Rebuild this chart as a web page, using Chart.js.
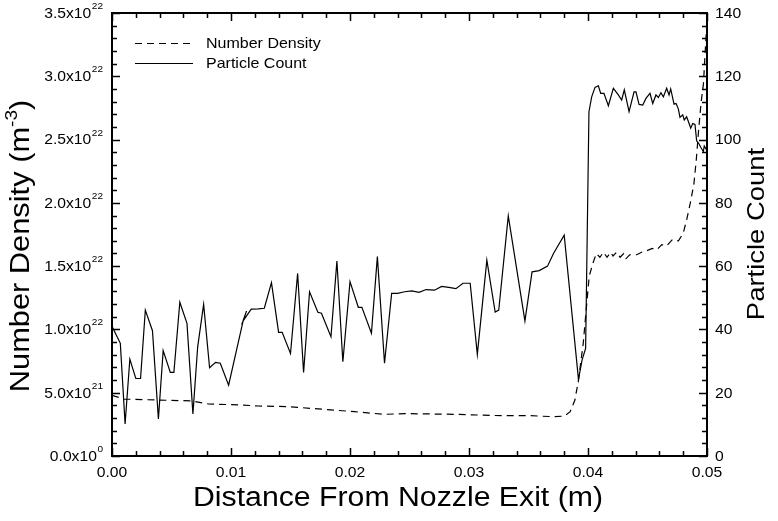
<!DOCTYPE html>
<html>
<head>
<meta charset="utf-8">
<script src="https://cdn.jsdelivr.net/npm/chart.js@4.4.0/dist/chart.umd.min.js"></script>
<style>
html, body { margin: 0; padding: 0; background: #fff; }
#wrap { width: 778px; height: 521px; }
</style>
</head>
<body>
<div id="wrap"><canvas id="chart" width="778" height="521"></canvas></div>
<script>
// Particle count (right axis)
const countX = [0.0000, 0.0007, 0.0011, 0.0015, 0.0020, 0.0024, 0.0028, 0.0034, 0.0039, 0.0043,
	0.0049, 0.0052, 0.0057, 0.0063, 0.0068, 0.0072, 0.0077, 0.0082, 0.0087, 0.0091,
	0.0098, 0.0110, 0.0113, 0.0110, 0.0117, 0.0123, 0.0128, 0.0134, 0.0140, 0.0143,
	0.0150, 0.0156, 0.0161, 0.0166, 0.0173, 0.0176, 0.0184, 0.0189, 0.0194, 0.0200,
	0.0207, 0.0210, 0.0218, 0.0223, 0.0229, 0.0235, 0.0240, 0.0246, 0.0252, 0.0258,
	0.0264, 0.0271, 0.0277, 0.0283, 0.0289, 0.0295, 0.0301, 0.0307, 0.0315, 0.0322,
	0.0325, 0.0333, 0.0347, 0.0353, 0.0359, 0.0366, 0.0371, 0.0380, 0.0392, 0.0395,
	0.0398, 0.04008, 0.04031, 0.04059, 0.04087, 0.04107, 0.04134, 0.04171, 0.04213, 0.04255,
	0.04283, 0.04305, 0.04345, 0.04387, 0.04403, 0.04429, 0.0446, 0.04487, 0.04521, 0.04544,
	0.04571, 0.04591, 0.04613, 0.04633, 0.04661, 0.04681, 0.04695, 0.04723, 0.0474, 0.04759,
	0.04773, 0.04796, 0.04809, 0.04829, 0.04851, 0.04863, 0.0488, 0.04899, 0.04913, 0.04933,
	0.0495, 0.04969, 0.04977, 0.0500];
const countY = [41, 35.6, 10.1, 30.6, 24.5, 24.5, 46.1, 39.6, 11.7, 33.3,
	26.4, 26.4, 48.6, 41.9, 13.3, 34.5, 47.9, 27.9, 29.6, 29.3,
	22.4, 42.4, 45.8, 42.6, 46.4, 46.5, 46.7, 54.8, 39.1, 39.1,
	32.4, 57.7, 26.4, 51.9, 45.4, 45.1, 37.7, 61.6, 29.8, 55.1,
	47.0, 47.0, 38.8, 63.0, 29.3, 51.4, 51.4, 51.9, 52.2, 51.7,
	52.6, 52.4, 53.6, 53.3, 52.9, 54.6, 54.6, 32.1, 61.9, 45.5,
	46.1, 75.9, 42.7, 58.2, 58.6, 60.0, 64.0, 69.8, 24.2, 30.3,
	34.0, 108.8, 113.5, 116.5, 117.0, 114.6, 114.6, 110.7, 116.2, 114.1,
	112.5, 115.7, 108.8, 115.1, 115.1, 111.1, 110.9, 113.0, 114.6, 111.4,
	114.1, 113.3, 114.8, 113.5, 116.2, 114.1, 116.0, 111.2, 111.4, 109.7,
	107.0, 107.8, 106.2, 107.2, 104.9, 103.6, 105.1, 104.8, 99.6, 98.6,
	97.4, 96.2, 98.0, 96.5];

// Number density (left axis)
const densityX = [0.0000, 0.0010, 0.0039, 0.0067, 0.0081, 0.0109, 0.0123, 0.0148, 0.0176, 0.0204,
	0.0229, 0.0246, 0.0290, 0.0320, 0.0350, 0.0370, 0.0380, 0.0385, 0.0389, 0.0392,
	0.0396, 0.0399, 0.0401, 0.0404, 0.0407, 0.0410, 0.0413, 0.0416, 0.0419, 0.0421,
	0.0424, 0.0427, 0.0430, 0.0432, 0.0435, 0.0441, 0.0445, 0.0449, 0.0454, 0.0458,
	0.0462, 0.0466, 0.0471, 0.0476, 0.0480, 0.0483, 0.0486, 0.0489, 0.0491, 0.0493,
	0.0495, 0.0497, 0.0500];
const densityY = [4.8e21, 4.5e21, 4.42e21, 4.35e21, 4.11e21, 4.03e21, 3.95e21, 3.9e21, 3.7e21, 3.5e21,
	3.29e21, 3.35e21, 3.29e21, 3.2e21, 3.19e21, 3.11e21, 3.15e21, 3.5e21, 4.42e21, 6.0e21,
	8.9e21, 1.21e22, 1.42e22, 1.52e22, 1.60e22, 1.57e22, 1.61e22, 1.57e22, 1.61e22, 1.58e22,
	1.61e22, 1.57e22, 1.60e22, 1.56e22, 1.59e22, 1.59e22, 1.61e22, 1.62e22, 1.64e22, 1.63e22,
	1.67e22, 1.66e22, 1.71e22, 1.70e22, 1.76e22, 1.87e22, 2.0e22, 2.15e22, 2.34e22, 2.58e22,
	2.79e22, 2.94e22, 3.45e22];

// Tick labels
const xTicks = [0, 0.01, 0.02, 0.03, 0.04, 0.05];
const xTickLabels = ['0.00', '0.01', '0.02', '0.03', '0.04', '0.05'];
const densityTicks = [0, 5e21, 1e22, 1.5e22, 2e22, 2.5e22, 3e22, 3.5e22];
const densityTickBase = ['0.0x10', '5.0x10', '1.0x10', '1.5x10', '2.0x10', '2.5x10', '3.0x10', '3.5x10'];
const densityTickExp = ['0', '21', '22', '22', '22', '22', '22', '22'];
const countTicks = [0, 20, 40, 60, 80, 100, 120, 140];

const FONT = '"Liberation Sans", Arial, sans-serif';
const SX = 1.12; // text in the reference is a bit wide

function drawText(ctx, text, x, y, size, align, rot) {
	ctx.save();
	ctx.translate(x, y);
	if (rot) ctx.rotate(rot);
	ctx.scale(SX, 1);
	ctx.font = size + 'px ' + FONT;
	ctx.textAlign = align;
	ctx.textBaseline = 'middle';
	ctx.fillStyle = '#000';
	ctx.fillText(text, 0, 0);
	ctx.restore();
}

function textWidth(ctx, text, size) {
	ctx.save();
	ctx.font = size + 'px ' + FONT;
	const w = ctx.measureText(text).width * SX;
	ctx.restore();
	return w;
}

const framePlugin = {
	id: 'frame',
	afterDraw(chart) {
		const ctx = chart.ctx;
		const a = chart.chartArea;
		const sx = chart.scales.x, sd = chart.scales.yD, sc = chart.scales.yC;

		ctx.save();
		ctx.strokeStyle = '#000';
		ctx.lineWidth = 1.5;

		// inward ticks on all sides
		ctx.beginPath();
		for (let i = 0; i <= 25; i++) {
			const px = Math.round(sx.getPixelForValue(i * 0.002)) + 0.5;
			const len = i % 5 === 0 ? 8 : 5;
			ctx.moveTo(px, a.bottom); ctx.lineTo(px, a.bottom - len);
			ctx.moveTo(px, a.top); ctx.lineTo(px, a.top + len);
		}
		for (let i = 0; i <= 35; i++) {
			const py = Math.round(sd.getPixelForValue(i * 1e21)) + 0.5;
			const len = i % 5 === 0 ? 8 : 5;
			ctx.moveTo(a.left, py); ctx.lineTo(a.left + len, py);
		}
		for (let i = 0; i <= 35; i++) {
			const py = Math.round(sc.getPixelForValue(i * 4)) + 0.5;
			const len = i % 5 === 0 ? 8 : 5;
			ctx.moveTo(a.right, py); ctx.lineTo(a.right - len, py);
		}
		ctx.stroke();

		// frame
		ctx.lineWidth = 2;
		ctx.strokeRect(a.left, a.top, a.right - a.left, a.bottom - a.top);
		ctx.restore();

		// tick labels
		xTicks.forEach((v, i) => {
			drawText(ctx, xTickLabels[i], sx.getPixelForValue(v), a.bottom + 17, 14, 'center');
		});
		densityTicks.forEach((v, i) => {
			const py = sd.getPixelForValue(v);
			const right = a.left - 9;
			const ew = textWidth(ctx, densityTickExp[i], 9);
			drawText(ctx, densityTickExp[i], right, py - 6.5, 9, 'right');
			drawText(ctx, densityTickBase[i], right - ew - 0.5, py + 1, 14, 'right');
		});
		countTicks.forEach(v => {
			drawText(ctx, String(v), a.right + 8, sc.getPixelForValue(v) + 1, 14, 'left');
		});

		// axis titles
		drawText(ctx, 'Distance From Nozzle Exit (m)', 398, 499, 27, 'center');

		ctx.save();
		ctx.translate(21, 246);
		ctx.rotate(-Math.PI / 2);
		const main = 'Number Density (m';
		const wMain = textWidth(ctx, main, 27.5);
		const wSup = textWidth(ctx, '-3', 17);
		const wEnd = textWidth(ctx, ')', 27.5);
		let x0 = -(wMain + wSup + wEnd) / 2;
		drawText(ctx, main, x0, 0, 27.5, 'left');
		drawText(ctx, '-3', x0 + wMain, -9, 17, 'left');
		drawText(ctx, ')', x0 + wMain + wSup, 0, 27.5, 'left');
		ctx.restore();

		drawText(ctx, 'Particle Count', 757, 234, 24.5, 'center', -Math.PI / 2);

		// legend
		ctx.save();
		ctx.strokeStyle = '#000';
		ctx.lineWidth = 1.2;
		ctx.setLineDash([7, 5]);
		ctx.beginPath();
		ctx.moveTo(135, 43.5); ctx.lineTo(193, 43.5);
		ctx.stroke();
		ctx.setLineDash([]);
		ctx.beginPath();
		ctx.moveTo(135, 63.5); ctx.lineTo(193, 63.5);
		ctx.stroke();
		ctx.restore();
		drawText(ctx, 'Number Density', 206, 44, 14.3, 'left');
		drawText(ctx, 'Particle Count', 206, 64, 14.3, 'left');
	}
};

const densityPoints = densityX.map((x, i) => ({ x: x, y: densityY[i] }));
const countPoints = countX.map((x, i) => ({ x: x, y: countY[i] }));

new Chart(document.getElementById('chart'), {
	type: 'scatter',
	data: {
		datasets: [
			{
				label: 'Number Density',
				data: densityPoints,
				yAxisID: 'yD',
				showLine: true,
				borderColor: '#000',
				borderWidth: 1.2,
				borderDash: [7, 5],
				pointRadius: 0,
				tension: 0
			},
			{
				label: 'Particle Count',
				data: countPoints,
				yAxisID: 'yC',
				showLine: true,
				borderColor: '#000',
				borderWidth: 1.2,
				pointRadius: 0,
				tension: 0
			}
		]
	},
	options: {
		responsive: false,
		animation: false,
		devicePixelRatio: 1,
		layout: { padding: { top: 13, right: 0, left: 0, bottom: 0 } },
		plugins: {
			legend: { display: false },
			tooltip: { enabled: false }
		},
		scales: {
			x: {
				type: 'linear',
				min: 0,
				max: 0.05,
				grid: { display: false },
				border: { display: false },
				ticks: { display: false },
				afterFit: s => { s.height = 65; }
			},
			yD: {
				type: 'linear',
				position: 'left',
				min: 0,
				max: 3.5e22,
				grid: { display: false },
				border: { display: false },
				ticks: { display: false },
				afterFit: s => { s.width = 112; }
			},
			yC: {
				type: 'linear',
				position: 'right',
				min: 0,
				max: 140,
				grid: { display: false },
				border: { display: false },
				ticks: { display: false },
				afterFit: s => { s.width = 71; }
			}
		}
	},
	plugins: [framePlugin]
});
</script>
</body>
</html>
